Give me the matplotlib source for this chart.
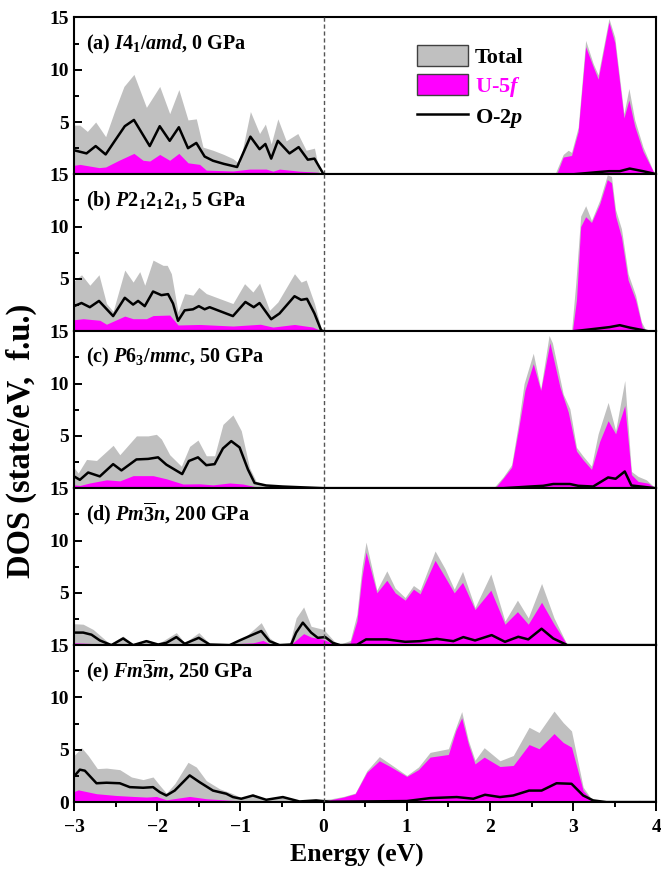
import numpy as np
import matplotlib
matplotlib.use("Agg")
import matplotlib.pyplot as plt
from matplotlib.patches import Patch
from matplotlib.lines import Line2D
from matplotlib.ticker import MultipleLocator

plt.rcParams["font.family"] = "Liberation Serif"
plt.rcParams["font.weight"] = "bold"
plt.rcParams["mathtext.fontset"] = "custom"
plt.rcParams["mathtext.rm"] = "Liberation Serif:bold"
plt.rcParams["mathtext.it"] = "Liberation Serif:bold:italic"
plt.rcParams["mathtext.bf"] = "Liberation Serif:bold"

# ---- (a) I4_1/amd, 0 GPa ----
e_tot_a = [-3.0, -2.93, -2.84, -2.74, -2.62, -2.51, -2.40, -2.28, -2.13, -1.97, -1.85, -1.74, -1.63, -1.53, -1.45,
           -1.33, -1.20, -1.09, -1.01, -0.88, -0.77, -0.70, -0.63, -0.55, -0.45, -0.31, -0.21, -0.11, -0.05, 0.0,
           2.78, 2.88, 2.94, 2.98, 3.06, 3.15, 3.24, 3.30, 3.43, 3.50, 3.61, 3.67, 3.74, 3.84, 3.98, 4.0]
tot_a = [4.7, 4.7, 4.1, 5.0, 3.6, 6.1, 8.4, 9.55, 6.4, 8.4, 5.8, 8.1, 5.2, 5.3, 2.6,
         2.3, 1.9, 1.5, 1.0, 6.0, 3.9, 4.8, 2.9, 5.3, 3.2, 3.9, 2.3, 2.5, 0.2, 0.0,
         0.0, 1.9, 2.3, 2.1, 4.5, 12.8, 10.6, 9.5, 14.9, 13.1, 5.8, 8.2, 5.2, 2.6, 0.0, 0.0]
e_f_a = [-3.0, -2.93, -2.70, -2.62, -2.46, -2.28, -2.17, -2.09, -1.97, -1.85, -1.74, -1.63, -1.49, -1.41, -1.09,
         -0.89, -0.69, -0.61, -0.53, -0.29, -0.07, 0.0,
         2.80, 2.88, 2.98, 3.06, 3.15, 3.24, 3.30, 3.43, 3.50, 3.61, 3.67, 3.74, 3.84, 3.98, 4.0]
f_a = [0.86, 0.95, 0.64, 0.7, 1.34, 2.0, 1.34, 1.27, 1.9, 1.34, 2.0, 1.1, 0.95, 0.4, 0.32,
       0.5, 0.5, 0.3, 0.5, 0.3, 0.2, 0.0,
       0.0, 1.65, 1.8, 4.1, 12.2, 10.3, 9.1, 14.55, 12.6, 5.4, 7.1, 4.6, 2.2, 0.0, 0.0]
e_p_a = [-3.0, -2.85, -2.74, -2.62, -2.51, -2.39, -2.28, -2.09, -1.97, -1.85, -1.74, -1.63, -1.53, -1.43, -1.33,
         -1.20, -1.04, -0.88, -0.77, -0.70, -0.63, -0.55, -0.41, -0.30, -0.19, -0.11, 0.0,
         3.0, 3.28, 3.43, 3.56, 3.68, 3.84, 3.98, 4.0]
p_a = [2.3, 2.0, 2.7, 1.9, 3.2, 4.6, 5.2, 2.7, 4.6, 3.2, 4.5, 2.5, 3.0, 1.7, 1.3,
       1.0, 0.7, 3.6, 2.4, 2.9, 1.5, 3.2, 2.0, 2.6, 1.4, 1.5, 0.0,
       0.0, 0.2, 0.3, 0.3, 0.55, 0.3, 0.05, 0.0]

# ---- (b) P2_12_12_1, 5 GPa ----
e_tot_b = [-3.0, -2.91, -2.81, -2.70, -2.61, -2.53, -2.39, -2.29, -2.21, -2.15, -2.05, -1.93, -1.88, -1.83, -1.75,
           -1.67, -1.57, -1.50, -1.41, -1.09, -0.95, -0.85, -0.77, -0.65, -0.55, -0.35, -0.27, -0.21, -0.11, -0.02,
           2.98, 3.03, 3.09, 3.15, 3.22, 3.32, 3.41, 3.46, 3.51, 3.58, 3.66, 3.75, 3.82, 3.88, 4.0]
tot_b = [4.8, 5.4, 4.4, 5.4, 2.65, 1.9, 5.85, 4.7, 5.7, 4.4, 6.8, 6.3, 6.3, 5.5, 1.85,
         3.6, 3.45, 4.2, 3.6, 2.65, 4.55, 3.75, 4.6, 2.0, 2.8, 5.5, 4.7, 4.9, 2.65, 0.0,
         0.0, 4.5, 11.0, 12.0, 10.6, 12.55, 14.95, 14.8, 11.6, 9.8, 5.5, 3.45, 0.9, 0.0, 0.0]
e_f_b = [-3.0, -2.89, -2.69, -2.61, -2.39, -2.29, -2.13, -2.05, -1.85, -1.75, -1.49, -1.09, -0.76, -0.61, -0.35,
         -0.13, -0.02,
         2.99, 3.04, 3.09, 3.15, 3.22, 3.32, 3.41, 3.46, 3.51, 3.58, 3.66, 3.75, 3.83, 3.88, 4.0]
f_b = [1.1, 1.2, 1.05, 0.67, 1.45, 1.2, 1.2, 1.5, 1.55, 0.6, 0.65, 0.5, 0.67, 0.4, 0.65,
       0.4, 0.0,
       0.0, 3.0, 10.0, 10.95, 10.4, 12.2, 14.5, 14.2, 11.0, 9.0, 4.9, 3.0, 0.4, 0.0, 0.0]
e_p_b = [-3.0, -2.91, -2.81, -2.70, -2.53, -2.39, -2.29, -2.23, -2.15, -2.05, -1.95, -1.87, -1.81, -1.75, -1.67,
         -1.57, -1.50, -1.43, -1.37, -1.09, -0.94, -0.84, -0.77, -0.63, -0.53, -0.35, -0.27, -0.20, -0.11, -0.03,
         0.0, 3.0, 3.28, 3.44, 3.56, 3.68, 3.84, 3.9, 4.0]
p_b = [2.4, 2.7, 2.3, 2.9, 1.45, 3.2, 2.55, 2.9, 2.4, 3.8, 3.45, 3.55, 2.65, 1.0, 2.0,
       2.1, 2.4, 2.1, 2.3, 1.45, 2.8, 2.3, 2.7, 1.15, 1.7, 3.35, 3.0, 3.1, 1.7, 0.1,
       0.0, 0.0, 0.25, 0.4, 0.58, 0.35, 0.1, 0.0, 0.0]

# ---- (c) P6_3/mmc, 50 GPa ----
e_tot_c = [-3.0, -2.95, -2.85, -2.73, -2.53, -2.45, -2.25, -2.11, -2.01, -1.95, -1.85, -1.71, -1.61, -1.51, -1.41,
           -1.31, -1.21, -1.09, -0.99, -0.89, -0.81, -0.69, -0.49, -0.29, 0.0,
           2.04, 2.16, 2.26, 2.34, 2.41, 2.52, 2.61, 2.71, 2.75, 2.88, 2.96, 3.04, 3.12, 3.22, 3.30,
           3.42, 3.51, 3.62, 3.70, 3.78, 3.88, 3.99, 4.0]
tot_c = [1.95, 1.45, 2.75, 2.65, 4.1, 3.2, 5.0, 5.0, 5.15, 4.7, 3.2, 2.1, 4.0, 4.6, 3.1,
         3.1, 6.1, 7.0, 5.5, 1.95, 0.65, 0.32, 0.16, 0.1, 0.0,
         0.0, 1.1, 2.25, 6.1, 10.0, 12.9, 9.5, 14.6, 13.9, 9.0, 7.6, 3.9, 3.06, 2.1, 5.2,
         8.2, 5.5, 10.3, 1.6, 1.13, 0.8, 0.0, 0.0]
e_f_c = [-3.0, -2.93, -2.81, -2.61, -2.45, -2.29, -2.05, -1.89, -1.69, -1.49, -1.33, -1.13, -0.97, -0.81, -0.49, 0.0,
         2.06, 2.16, 2.26, 2.34, 2.42, 2.52, 2.61, 2.72, 2.84, 2.94, 3.04, 3.12, 3.22, 3.32, 3.42,
         3.51, 3.62, 3.70, 3.78, 3.90, 3.99, 4.0]
f_c = [0.32, 0.26, 0.5, 0.8, 0.7, 1.2, 1.2, 0.9, 0.4, 0.42, 0.32, 0.5, 0.4, 0.13, 0.06, 0.0,
       0.0, 0.97, 2.0, 5.5, 9.35, 11.9, 9.35, 13.9, 9.7, 7.3, 3.55, 2.7, 1.8, 4.5, 6.45,
       5.2, 7.9, 1.3, 0.65, 0.48, 0.0, 0.0]
e_p_c = [-3.0, -2.93, -2.83, -2.69, -2.53, -2.43, -2.25, -2.11, -1.99, -1.89, -1.70, -1.62, -1.51, -1.41, -1.31,
         -1.21, -1.11, -1.01, -0.91, -0.83, -0.69, -0.49, 0.0,
         2.16, 2.48, 2.64, 2.76, 2.96, 3.06, 3.24, 3.42, 3.51, 3.62, 3.70, 3.88, 3.99, 4.0]
p_c = [1.13, 0.8, 1.5, 1.13, 2.3, 1.7, 2.75, 2.8, 2.95, 2.25, 1.35, 2.6, 2.95, 2.2, 2.3,
       3.8, 4.5, 3.9, 1.8, 0.5, 0.26, 0.16, 0.0,
       0.0, 0.16, 0.23, 0.4, 0.4, 0.23, 0.16, 1.03, 0.9, 1.6, 0.26, 0.1, 0.0, 0.0]

# ---- (d) Pm-3n, 200 GPa ----
e_tot_d = [-3.0, -2.89, -2.77, -2.57, -2.41, -2.29, -2.13, -1.99, -1.77, -1.67, -1.50, -1.37, -1.09, -0.93, -0.75,
           -0.65, -0.53, -0.41, -0.33, -0.24, -0.15, 0.0, 0.08, 0.17,
           0.32, 0.40, 0.46, 0.51, 0.64, 0.76, 0.86, 0.98, 1.08, 1.16, 1.34, 1.46, 1.57, 1.67, 1.82,
           2.01, 2.18, 2.33, 2.46, 2.62, 2.77, 2.93, 4.0]
tot_d = [2.05, 2.0, 1.5, 0.13, 0.87, 0.06, 0.55, 0.13, 1.2, 0.22, 1.2, 0.13, 0.06, 0.87, 2.15,
         0.7, 0.0, 0.06, 2.6, 3.65, 1.8, 1.5, 0.8, 0.0,
         0.45, 2.95, 7.4, 9.85, 5.25, 7.1, 5.45, 4.55, 5.7, 5.25, 9.0, 7.3, 5.35, 7.05, 3.6,
         6.8, 2.3, 4.3, 2.6, 5.9, 2.6, 0.0, 0.0]
e_f_d = [-3.0, -2.69, -1.09, -0.85, -0.73, -0.65, -0.53, -0.37, -0.24, -0.15, 0.0, 0.11, 0.17,
         0.32, 0.40, 0.46, 0.51, 0.64, 0.76, 0.86, 0.98, 1.08, 1.16, 1.34, 1.46, 1.57, 1.67, 1.82,
         2.01, 2.18, 2.33, 2.46, 2.62, 2.77, 2.93, 4.0]
f_d = [0.22, 0.13, 0.13, 0.22, 0.45, 0.13, 0.0, 0.22, 1.1, 0.77, 0.55, 0.13, 0.0,
       0.22, 2.3, 6.5, 8.9, 5.0, 6.2, 5.0, 4.3, 5.35, 4.9, 8.1, 6.5, 5.0, 6.0, 3.4,
       5.25, 2.0, 3.2, 2.0, 4.1, 2.0, 0.0, 0.0]
e_p_d = [-3.0, -2.89, -2.79, -2.69, -2.55, -2.41, -2.29, -2.13, -1.99, -1.89, -1.77, -1.67, -1.50, -1.37, -1.13,
         -1.01, -0.89, -0.75, -0.65, -0.53, -0.39, -0.33, -0.25, -0.15, -0.07, 0.02, 0.11, 0.20,
         0.40, 0.51, 0.76, 0.98, 1.16, 1.36, 1.56, 1.68, 1.82, 2.02, 2.18, 2.34, 2.46, 2.62, 2.76, 2.93, 4.0]
p_d = [1.2, 1.2, 1.0, 0.45, 0.0, 0.64, 0.0, 0.38, 0.06, 0.22, 0.77, 0.13, 0.7, 0.06, 0.0,
       0.45, 0.87, 1.35, 0.38, 0.0, 0.06, 1.2, 2.15, 1.2, 0.7, 0.77, 0.22, 0.0,
       0.03, 0.55, 0.55, 0.32, 0.38, 0.6, 0.38, 0.77, 0.45, 0.96, 0.32, 0.8, 0.55, 1.57, 0.64, 0.0, 0.0]

# ---- (e) Fm-3m, 250 GPa ----
e_tot_e = [-3.0, -2.91, -2.83, -2.72, -2.61, -2.45, -2.31, -2.17, -2.05, -1.97, -1.89, -1.79, -1.63, -1.53, -1.41,
           -1.25, -1.09, -0.99, -0.85, -0.69, -0.49, -0.29, -0.09,
           0.08, 0.24, 0.38, 0.52, 0.67, 0.80, 1.0, 1.14, 1.28, 1.50, 1.59, 1.66, 1.74, 1.82, 1.93,
           2.12, 2.28, 2.47, 2.59, 2.77, 2.88, 2.98, 3.12, 3.22, 3.40, 3.80, 3.98, 4.0]
tot_e = [4.45, 5.2, 4.45, 3.2, 3.25, 3.1, 2.4, 2.15, 2.4, 1.6, 0.86, 1.75, 3.8, 3.35, 2.05,
         1.27, 0.8, 0.4, 0.8, 0.22, 0.54, 0.1, 0.22,
         0.3, 0.54, 0.86, 3.0, 4.35, 3.65, 2.55, 3.35, 4.75, 5.1, 7.15, 8.65, 5.9, 4.0, 5.2,
         3.95, 4.45, 7.15, 6.65, 8.7, 7.6, 6.8, 1.43, 0.3, 0.06, 0.16, 0.0, 0.0]
e_f_e = [-3.0, -2.95, -2.73, -2.49, -2.29, -2.13, -2.01, -1.89, -1.61, -1.41, -1.09, -0.69, -0.01,
         0.08, 0.24, 0.38, 0.52, 0.67, 0.80, 1.0, 1.14, 1.28, 1.50, 1.59, 1.66, 1.74, 1.82, 1.93,
         2.12, 2.28, 2.47, 2.59, 2.77, 2.88, 2.98, 3.12, 3.22, 3.40, 4.0]
f_e = [1.0, 1.17, 0.8, 0.63, 0.54, 0.48, 0.54, 0.22, 0.54, 0.32, 0.16, 0.1, 0.05,
       0.22, 0.48, 0.8, 2.85, 3.95, 3.4, 2.45, 3.1, 4.3, 4.55, 6.85, 8.05, 5.55, 3.65, 4.3,
       3.4, 3.5, 5.5, 5.1, 6.55, 5.7, 5.25, 1.1, 0.22, 0.03, 0.0]
e_p_e = [-3.0, -2.93, -2.87, -2.73, -2.61, -2.45, -2.33, -2.17, -2.05, -1.97, -1.89, -1.79, -1.61, -1.49, -1.33,
         -1.17, -1.09, -0.99, -0.85, -0.69, -0.49, -0.29, -0.09,
         0.08, 1.0, 1.28, 1.60, 1.80, 1.94, 2.12, 2.28, 2.47, 2.62, 2.80, 2.98, 3.12, 3.24, 3.40, 4.0]
p_e = [2.45, 3.1, 3.0, 1.8, 1.85, 1.8, 1.43, 1.37, 1.43, 0.95, 0.63, 1.1, 2.55, 1.9, 1.1,
       0.8, 0.48, 0.32, 0.63, 0.22, 0.48, 0.06, 0.16,
       0.03, 0.1, 0.38, 0.48, 0.32, 0.7, 0.48, 0.63, 1.1, 1.1, 1.8, 1.75, 0.63, 0.16, 0.0, 0.0]

panel_labels = [
    r"(a) $\mathit{I}\mathrm{4}_{\mathrm{1}}/\mathit{amd}$, 0 GPa",
    r"(b) $\mathit{P}\mathrm{2}_{\mathrm{1}}\mathrm{2}_{\mathrm{1}}\mathrm{2}_{\mathrm{1}}$, 5 GPa",
    r"(c) $\mathit{P}\mathrm{6}_{\mathrm{3}}/\mathit{mmc}$, 50 GPa",
    r"(d) $\mathit{Pm}\overline{\mathrm{3}}\mathit{n}$, 200 GPa",
    r"(e) $\mathit{Fm}\overline{\mathrm{3}}\mathit{m}$, 250 GPa",
]
panels = [
    (e_tot_a, tot_a, e_f_a, f_a, e_p_a, p_a),
    (e_tot_b, tot_b, e_f_b, f_b, e_p_b, p_b),
    (e_tot_c, tot_c, e_f_c, f_c, e_p_c, p_c),
    (e_tot_d, tot_d, e_f_d, f_d, e_p_d, p_d),
    (e_tot_e, tot_e, e_f_e, f_e, e_p_e, p_e),
]

gray = "#c0c0c0"
magenta = "#ff00ff"

fig, axes = plt.subplots(5, 1, sharex=True, figsize=(6.61, 8.69), dpi=100)
fig.subplots_adjust(left=0.112, right=0.993, bottom=0.077, top=0.980, hspace=0)

for i, (ax, data, lab) in enumerate(zip(axes, panels, panel_labels)):
    e_t, t, e_f, f, e_p, p = data
    ax.fill_between(e_t, 0, t, color=gray, lw=0, zorder=1)
    ax.fill_between(e_f, 0, f, color=magenta, lw=0, zorder=2)
    ax.plot(e_p, p, color="black", lw=1.8, zorder=3)
    ax.axvline(0, color="#555555", lw=1.0, ls=(0, (3, 2)), zorder=4)

    ax.set_xlim(-3, 4)
    ax.set_ylim(0, 15)
    ax.xaxis.set_major_locator(MultipleLocator(1))
    ax.xaxis.set_minor_locator(MultipleLocator(0.5))
    if i == 4:
        ax.set_yticks([0, 5, 10, 15])
    else:
        ax.set_yticks([5, 10, 15])
    ax.yaxis.set_minor_locator(MultipleLocator(2.5))
    ax.tick_params(axis="x", which="major", direction="out", length=6.5, width=1.4,
                   labelsize=14, pad=6)
    ax.tick_params(axis="x", which="minor", direction="out", length=3.5, width=1.4)
    ax.tick_params(axis="y", which="major", direction="in", length=5.5, width=1.4, labelsize=14)
    ax.tick_params(axis="y", which="minor", direction="in", length=3.5, width=1.4)
    for s in ax.spines.values():
        s.set_linewidth(1.5)
    ax.text(0.02, 0.83, lab, transform=ax.transAxes, fontsize=14.5, fontweight="bold",
            va="center", ha="left")

handles = [
    Patch(facecolor=gray, edgecolor="#404040", lw=1.0),
    Patch(facecolor=magenta, edgecolor="#404040", lw=1.0),
    Line2D([0], [0], color="black", lw=1.8),
]
leg = axes[0].legend(handles, ["Total", r"U-5$\mathit{f}$", r"O-2$\mathit{p}$"],
                     loc="upper left", bbox_to_anchor=(0.570, 0.895), frameon=False,
                     fontsize=16, handlelength=2.3, handleheight=1.1, handletextpad=0.3,
                     labelspacing=0.25, borderpad=0)
leg.get_texts()[1].set_color(magenta)

fig.text(0.540, 0.016, "Energy (eV)", ha="center", va="center", fontsize=18.5, fontweight="bold")
fig.text(0.032, 0.4925, "DOS (state/eV,  f.u.)", ha="center", va="center", rotation=90,
         fontsize=23.5, fontweight="bold")

fig.savefig("out.png", dpi=100)
